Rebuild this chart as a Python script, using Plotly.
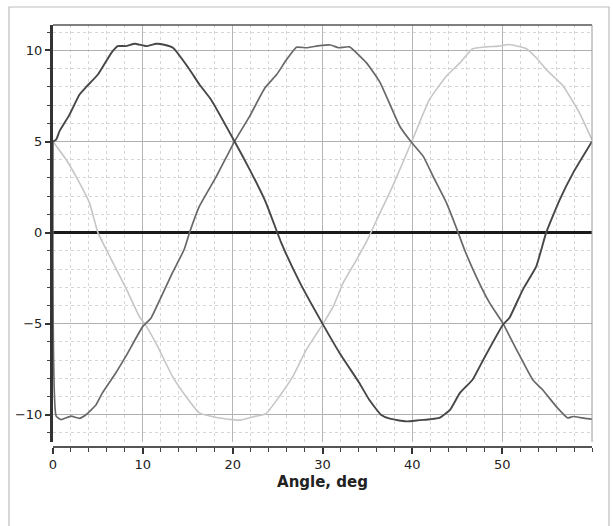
import plotly.graph_objects as go

# ---- data ----
dark_x = [0, 0.35, 0.73, 1.84, 2.95, 3.7, 5.0, 6.5, 7.2, 8.1, 9.1, 10.4, 11.5, 12.5, 13.35,
          15.2, 16.3, 17.6, 20.2, 21.9, 23.7, 25.4, 27.5, 30.0, 31.9, 34.1, 35.2, 36.5, 37.5,
          39.3, 40.8, 42.0, 43.0, 44.2, 45.3, 46.7, 47.9, 50.1, 50.8, 52.3, 53.8, 54.9, 56.4,
          57.9, 60.0]
dark_y = [5.0, 5.1, 5.57, 6.48, 7.58, 8.0, 8.68, 9.87, 10.24, 10.24, 10.37, 10.24, 10.37, 10.3, 10.15,
          8.96, 8.13, 7.3, 5.02, 3.46, 1.65, -0.55, -2.76, -5.0, -6.61, -8.26, -9.18, -10.0, -10.22,
          -10.37, -10.3, -10.25, -10.18, -9.73, -8.8, -8.08, -6.98, -5.05, -4.69, -3.13, -1.85, 0.0, 1.8,
          3.28, 5.0]

mid_x = [0, 0.35, 0.9, 2.0, 2.95, 3.7, 4.8, 5.5, 7.0, 8.1, 10.0, 10.9, 11.9, 13.3, 14.6, 15.2,
         16.3, 18.2, 20.2, 21.9, 23.6, 24.9, 26.0, 27.1, 28.2, 29.7, 30.9, 31.8, 33.0, 34.9, 36.4,
         38.6, 39.9, 41.2, 42.3, 43.8, 45.1, 45.8, 47.1, 48.6, 50.1, 51.6, 53.4, 54.5, 56.0, 57.3,
         57.9, 59.2, 60.0]
mid_y = [5.0, -10.08, -10.27, -10.08, -10.2, -9.99, -9.45, -8.8, -7.7, -6.8, -5.15, -4.7, -3.68, -2.2, -0.93, 0.0,
         1.45, 3.1, 5.0, 6.4, 7.95, 8.68, 9.5, 10.18, 10.15, 10.27, 10.3, 10.15, 10.2, 9.32, 8.25,
         5.84, 4.96, 4.2, 3.1, 1.63, 0.0, -0.93, -2.4, -3.86, -5.0, -6.43, -8.08, -8.63, -9.54, -10.18,
         -10.1, -10.2, -10.24]

light_x = [0, 1.47, 2.95, 4.06, 5.0, 6.5, 8.2, 9.6, 10.4, 11.7, 13.3, 14.8, 16.3, 18.2, 20.0, 20.9,
           22.6, 23.7, 25.2, 26.7, 28.2, 30.0, 31.2, 32.3, 33.8, 34.9, 36.4, 37.8, 39.9, 41.9, 43.8,
           45.3, 46.7, 48.2, 49.6, 50.8, 52.7, 53.8, 54.9, 56.8, 58.6, 60.0]
light_y = [5.0, 4.0, 2.73, 1.63, 0.0, -1.48, -3.13, -4.6, -5.15, -6.3, -7.9, -9.0, -9.9, -10.15, -10.27, -10.3,
           -10.08, -9.95, -9.0, -7.9, -6.43, -5.05, -4.05, -2.76, -1.48, -0.5, 1.08, 2.54, 4.96, 7.3, 8.6,
           9.32, 10.1, 10.2, 10.24, 10.33, 10.1, 9.6, 8.96, 8.04, 6.58, 5.1]

x_tick_vals = [0, 10, 20, 30, 40, 50]
y_tick_vals = [-10, -5, 0, 5, 10]
x_title = "Angle, deg"

fig = go.Figure()
fig.add_trace(go.Scatter(x=light_x, y=light_y, mode="lines",
                         line=dict(color="#c6c6c6", width=1.6, shape="spline", smoothing=0.4)))
fig.add_trace(go.Scatter(x=mid_x, y=mid_y, mode="lines",
                         line=dict(color="#686868", width=1.7, shape="spline", smoothing=0.4)))
fig.add_trace(go.Scatter(x=dark_x, y=dark_y, mode="lines",
                         line=dict(color="#474747", width=1.9, shape="spline", smoothing=0.4)))

W, H = 613, 526
ml, mr, mt, mb = 53, 21, 25, 79
plot_h = H - mt - mb
plot_w = W - ml - mr
base = H - mb  # pixel row of paper y=0

fig.update_layout(
    width=W, height=H,
    margin=dict(l=ml, r=mr, t=mt, b=mb),
    paper_bgcolor="white", plot_bgcolor="white",
    showlegend=False,
    font=dict(family="DejaVu Sans", color="#333333"),
    xaxis=dict(
        range=[0, 60], tickvals=x_tick_vals, ticks="outside", ticklen=6, tickwidth=1.5,
        tickcolor="#333", showline=True, linecolor="#555", linewidth=1.5,
        anchor="free", position=0,
        showgrid=True, gridcolor="#b5b5b5", gridwidth=1, zeroline=False,
        minor=dict(dtick=2, ticks="outside", ticklen=4, tickcolor="#444", tickwidth=1.3,
                   showgrid=True, gridcolor="#d6d6d6", griddash="dot", gridwidth=1),
        tickfont=dict(size=13, color="#222"),
        title=dict(text=f"<b>{x_title}</b>", font=dict(size=15, color="#222"), standoff=4),
    ),
    yaxis=dict(
        domain=[5 / plot_h, 1],
        range=[-11.5, 11.4], tickvals=y_tick_vals, ticks="outside", ticklen=5, tickwidth=1.5,
        tickcolor="#333", showline=True, linecolor="#333", linewidth=3,
        showgrid=True, gridcolor="#b0b0b0", gridwidth=1,
        zeroline=True, zerolinecolor="#1a1a1a", zerolinewidth=2.5,
        minor=dict(dtick=1, ticks="outside", ticklen=3, tickcolor="#444", tickwidth=1.3,
                   showgrid=True, gridcolor="#d6d6d6", griddash="dot", gridwidth=1),
        tickfont=dict(size=13, color="#222"),
    ),
    shapes=[
        # outer frame (open at the bottom, runs past the window)
        dict(type="rect", xref="paper", yref="paper",
             x0=(9 - ml) / plot_w, x1=(609 - ml) / plot_w,
             y0=-(540 - base) / plot_h, y1=(base - 7) / plot_h,
             line=dict(color="#bdbdbd", width=1.2), layer="above"),
        # top border
        dict(type="line", xref="paper", yref="paper", x0=0, x1=1, y0=1, y1=1,
             line=dict(color="#555", width=1.5)),
        # right border
        dict(type="line", xref="paper", yref="paper", x0=1, x1=1, y0=5 / plot_h, y1=1,
             line=dict(color="#9a9a9a", width=1)),
    ],
)

fig.write_html("out.html", config={"displayModeBar": False},
               post_script="document.body.style.margin='0';document.body.style.overflow='hidden';")
